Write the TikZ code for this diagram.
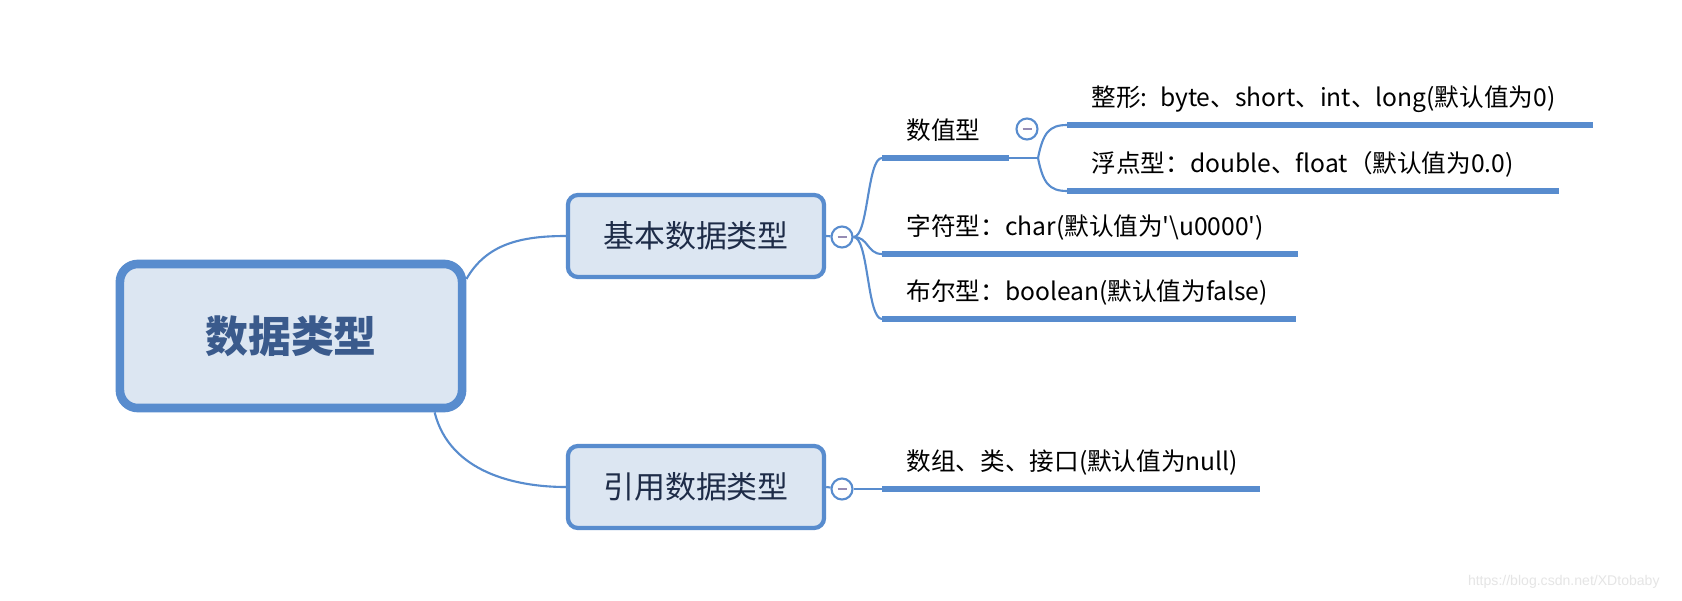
\documentclass[tikz,border=0pt]{standalone}
\usepackage{fontspec}
\setmainfont{Noto Sans CJK SC}
\newfontfamily\wmfont{Liberation Sans}
\usetikzlibrary{positioning}
\definecolor{mmblue}{RGB}{88,140,206}
\definecolor{mmfill}{RGB}{220,230,242}
\definecolor{mmtitle}{RGB}{58,90,140}
\definecolor{mmtext}{RGB}{30,44,72}
\definecolor{mmminus}{RGB}{150,140,180}
\tikzset{
  root/.style={draw=mmblue,fill=mmfill,line width=2.45pt,rounded corners=0.18cm,
    minimum width=3.42cm,minimum height=1.44cm,text=mmtitle,
    font=\bfseries\fontsize{12.2}{14}\selectfont},
  topic/.style={draw=mmblue,fill=mmfill,line width=1.2pt,rounded corners=0.1cm,
    minimum width=2.56cm,minimum height=0.82cm,text=mmtext,
    font=\fontsize{8.8}{10}\selectfont},
  toggle/.style={circle,draw=mmblue,fill=white,line width=0.6pt,minimum size=0.21cm,inner sep=0pt,
    path picture={\draw[mmminus,line width=0.6pt]
      ([xshift=-0.045cm]path picture bounding box.center) -- ([xshift=0.045cm]path picture bounding box.center);}},
  leaf/.style={anchor=south west,inner xsep=0.24cm,inner ysep=0.12cm,text height=0.2cm,text depth=0.06cm,
    align=left,font=\fontsize{7}{8}\selectfont},
  uline/.style={draw=mmblue,line width=1.7pt},
  link/.style={draw=mmblue,line width=0.6pt}
}
\begin{document}
\begin{tikzpicture}[x=0.01cm,y=-0.01cm]
\fill[white] (0,0) rectangle (1682,600);
\useasboundingbox (0,0) rectangle (1682,600);

% topics
\node[root] (dt) at (291,336) {数据类型};
\node[topic] (basic) at (696,236) {基本数据类型};
\node[topic] (ref) at (696,487) {引用数据类型};
\node[toggle] (tgb) at (842,237) {};
\node[toggle] (tgr) at (842,489) {};

% leaves
\node[leaf,text width=0.78cm] (num) at (882,158) {数值型};
\node[toggle] (tgn) at (1027,129) {};
\node[leaf,text width=4.76cm] (int) at (1067,125) {整形: byte、short、int、long(默认值为0)};
\node[leaf,text width=4.42cm] (flt) at (1067,191) {浮点型：double、float（默认值为0.0)};
\node[leaf,text width=3.66cm] (chr) at (882,254) {字符型：char(默认值为\textquotesingle\textbackslash u0000\textquotesingle)};
\node[leaf,text width=3.64cm] (bool) at (882,319) {布尔型：boolean(默认值为false)};
\node[leaf,text width=3.28cm] (arr) at (882,489) {数组、类、接口(默认值为null)};
\coordinate (fk) at (1038,158);
\foreach \n in {num,int,flt,chr,bool,arr}
  \draw[uline] (\n.south west) -- (\n.south east);

% links
\draw[link] (dt.18) .. controls +(20,-35) and +(-45,0) .. (basic.west);
\draw[link] (dt.-28) .. controls +(15,60) and +(-50,0) .. (ref.west);
\draw[link] (basic.east) -- (tgb);
\draw[link] (ref.east) -- (tgr);
\draw[link] (tgr) -- (arr.south west);
\foreach \n in {num,chr,bool}
  \draw[link] (tgb.east) .. controls +(15,0) and +(-15,0) .. (\n.south west);
\draw[link] (num.south east) -- (fk);
\draw[link] (fk) .. controls +(5,-25) and +(-18,0) .. (int.south west);
\draw[link] (fk) .. controls +(5,25) and +(-18,0) .. (flt.south west);

\node[anchor=east,text=black!10,font=\wmfont\fontsize{4}{5}\selectfont] (wm) at (1672,582) {https://blog.csdn.net/XDtobaby};
\end{tikzpicture}
\end{document}
